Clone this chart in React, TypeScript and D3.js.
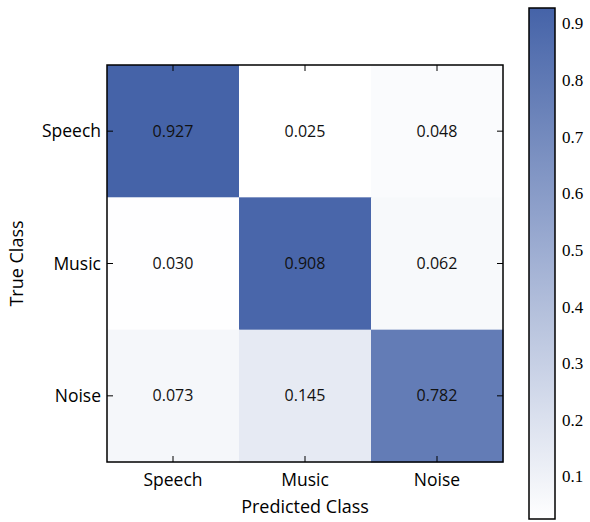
import React from "react";
import * as d3 from "d3";

const trueClasses = ["Speech", "Music", "Noise"];
const predClasses = ["Speech", "Music", "Noise"];
const rowSpeech = [0.927, 0.025, 0.048];
const rowMusic = [0.03, 0.908, 0.062];
const rowNoise = [0.073, 0.145, 0.782];
const matrix = [rowSpeech, rowMusic, rowNoise];
const colorbarTicks = [0.1, 0.2, 0.3, 0.4, 0.5, 0.6, 0.7, 0.8, 0.9];

const W = 590, H = 522;
const plot = { x0: 107, x1: 503, y0: 65, y1: 462 };
const cb = { x0: 529, x1: 555, y0: 8, y1: 519 };

export default function App() {
  const all = matrix.flat();
  const vmin = d3.min(all)!;
  const vmax = d3.max(all)!;
  const color = d3.scaleLinear<string>().domain([vmin, vmax]).range(["#ffffff", "#4563a8"]).interpolate(d3.interpolateRgb);
  const x = d3.scaleBand().domain(predClasses).range([plot.x0, plot.x1]);
  const y = d3.scaleBand().domain(trueClasses).range([plot.y0, plot.y1]);
  const cbY = d3.scaleLinear().domain([vmin, vmax]).range([cb.y1, cb.y0]);
  const sans = "'Open Sans', 'Noto Sans', sans-serif";
  const serif = "'Liberation Serif', 'DejaVu Serif', serif";
  const stops = d3.range(0, 1.0001, 0.1);

  return (
    <svg width={W} height={H} style={{ position: "absolute", left: 0, top: 0 }}>
      <defs>
        <linearGradient id="cbg" x1="0" y1="1" x2="0" y2="0">
          {stops.map((s) => (
            <stop key={s} offset={s} stopColor={color(vmin + s * (vmax - vmin))} />
          ))}
        </linearGradient>
      </defs>
      {matrix.map((row, i) =>
        row.map((v, j) => (
          <g key={`${i}-${j}`}>
            <rect x={x(predClasses[j])!} y={y(trueClasses[i])!} width={x.bandwidth() + 0.5} height={y.bandwidth() + 0.5} fill={color(v)} />
            <text x={x(predClasses[j])! + x.bandwidth() / 2} y={y(trueClasses[i])! + y.bandwidth() / 2} dy="0.35em" textAnchor="middle" fontFamily={sans} fontSize={16} fill="#111">
              {v.toFixed(3)}
            </text>
          </g>
        ))
      )}
      <rect x={plot.x0} y={plot.y0} width={plot.x1 - plot.x0} height={plot.y1 - plot.y0} fill="none" stroke="#000" strokeWidth={1.5} />
      {predClasses.map((c) => {
        const cx = x(c)! + x.bandwidth() / 2;
        return (
          <g key={"xt" + c}>
            <line x1={cx} x2={cx} y1={plot.y1} y2={plot.y1 - 6} stroke="#000" />
            <line x1={cx} x2={cx} y1={plot.y0} y2={plot.y0 + 6} stroke="#000" />
            <text x={cx} y={plot.y1 + 24} textAnchor="middle" fontFamily={sans} fontSize={17.5} fill="#000">{c}</text>
          </g>
        );
      })}
      {trueClasses.map((c) => {
        const cy = y(c)! + y.bandwidth() / 2;
        return (
          <g key={"yt" + c}>
            <line x1={plot.x0} x2={plot.x0 + 6} y1={cy} y2={cy} stroke="#000" />
            <line x1={plot.x1} x2={plot.x1 - 6} y1={cy} y2={cy} stroke="#000" />
            <text x={plot.x0 - 6} y={cy} dy="0.35em" textAnchor="end" fontFamily={sans} fontSize={17.5} fill="#000">{c}</text>
          </g>
        );
      })}
      <text x={(plot.x0 + plot.x1) / 2} y={513} textAnchor="middle" fontFamily={sans} fontSize={18} fill="#000">Predicted Class</text>
      <text transform={`translate(23,${(plot.y0 + plot.y1) / 2}) rotate(-90)`} textAnchor="middle" fontFamily={sans} fontSize={18} fill="#000">True Class</text>
      <rect x={cb.x0} y={cb.y0} width={cb.x1 - cb.x0} height={cb.y1 - cb.y0} fill="url(#cbg)" stroke="#000" strokeWidth={1.5} />
      {colorbarTicks.map((t) => (
        <text key={"cb" + t} x={cb.x1 + 7} y={cbY(t)} dy="0.35em" fontFamily={serif} fontSize={17} fill="#000">{t.toFixed(1)}</text>
      ))}
    </svg>
  );
}
